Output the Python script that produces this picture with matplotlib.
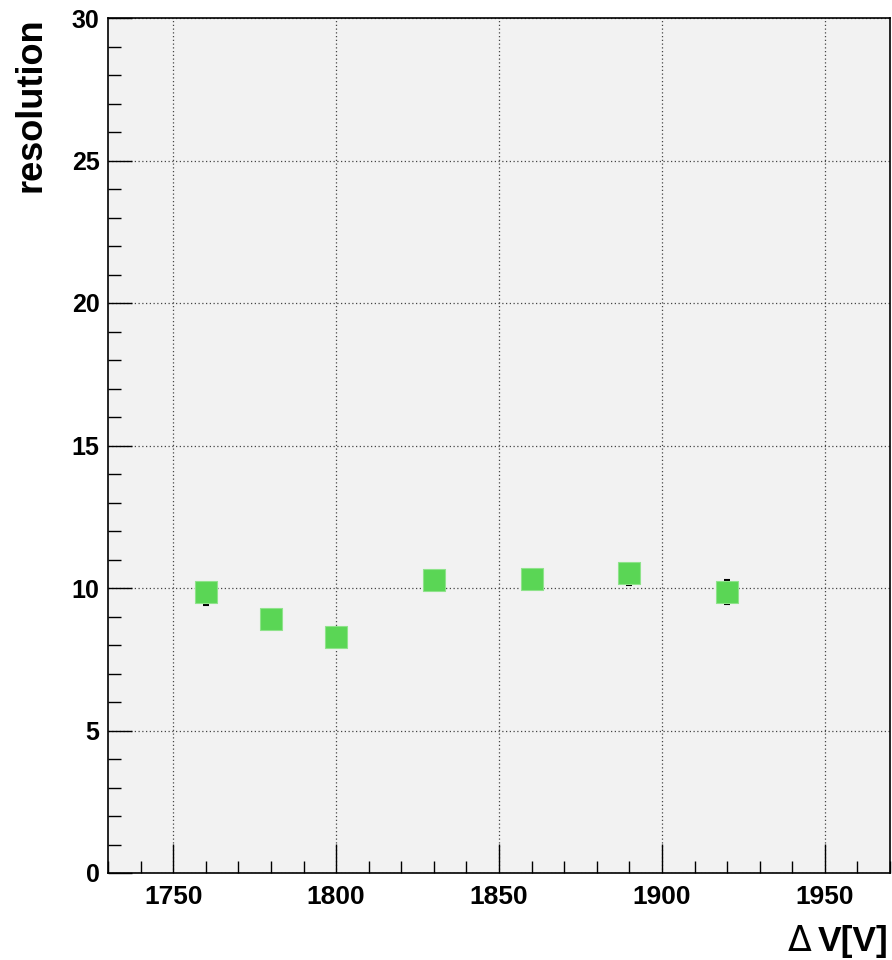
import matplotlib
matplotlib.use('Agg')
import matplotlib.pyplot as plt
from matplotlib.ticker import MultipleLocator
import numpy as np

# HV scan: resolution vs. voltage difference
voltage = [1760, 1780, 1800, 1830, 1860, 1890, 1920]
resolution = [9.85, 8.90, 8.29, 10.28, 10.33, 10.54, 9.85]
err_low = [0.43, 0.30, 0.30, 0.30, 0.30, 0.42, 0.42]
err_high = [0.30, 0.30, 0.30, 0.30, 0.30, 0.30, 0.42]

x_range = (1730, 1970)
y_range = (0, 30)


def main():
    plt.rcParams['font.family'] = ['Liberation Sans', 'DejaVu Sans']
    plt.rcParams['font.weight'] = 'bold'

    fig = plt.figure(figsize=(8.92, 9.6), dpi=100)
    fig.patch.set_facecolor('white')
    ax = fig.add_axes([108 / 892, 1 - 873 / 960, 782 / 892, 855 / 960])
    ax.set_facecolor('#f2f2f2')

    ax.errorbar(voltage, resolution, yerr=[err_low, err_high], fmt='none',
                ecolor='black', elinewidth=1.2, capsize=2.5, capthick=1.5, zorder=3)
    ax.plot(voltage, resolution, 's', color='#5ad655', markersize=15.5,
            markeredgewidth=0.8, markeredgecolor='#8fe38b', zorder=4)

    ax.set_xlim(*x_range)
    ax.set_ylim(*y_range)

    ax.xaxis.set_major_locator(MultipleLocator(50))
    ax.xaxis.set_minor_locator(MultipleLocator(10))
    ax.yaxis.set_major_locator(MultipleLocator(5))
    ax.yaxis.set_minor_locator(MultipleLocator(1))

    ax.tick_params(axis='x', which='major', direction='in', length=21, width=1,
                   labelsize=19, pad=9)
    ax.tick_params(axis='x', which='minor', direction='in', length=9, width=1)
    ax.tick_params(axis='y', which='major', direction='in', length=17, width=1,
                   labelsize=18, pad=6)
    ax.tick_params(axis='y', which='minor', direction='in', length=9, width=1)
    ax.tick_params(top=False, right=False, which='both')

    for lab in ax.get_xticklabels() + ax.get_yticklabels():
        lab.set_fontweight('bold')

    for sp in ax.spines.values():
        sp.set_linewidth(1.2)
        sp.set_color('black')

    ax.grid(True, which='major', color='#444444', linestyle=(0, (1, 2)), linewidth=0.9)
    ax.set_axisbelow(True)

    # axis titles, ROOT style: aligned to the far end of each axis
    fig.text(31 / 892, 1 - 17 / 960, 'resolution', rotation=90, ha='center', va='top',
             fontsize=26, fontweight='bold')
    t = fig.text(889 / 892, 1 - 958 / 960, 'V[V]', ha='right', va='bottom',
                 fontsize=25.5, fontweight='bold')
    ax.annotate('\u0394', xy=(0, 0), xycoords=t, xytext=(-5, 0), textcoords='offset points',
                ha='right', va='bottom', fontsize=25, fontweight='normal',
                family='DejaVu Sans')

    fig.savefig('out.png', dpi=100)


if __name__ == '__main__':
    main()
